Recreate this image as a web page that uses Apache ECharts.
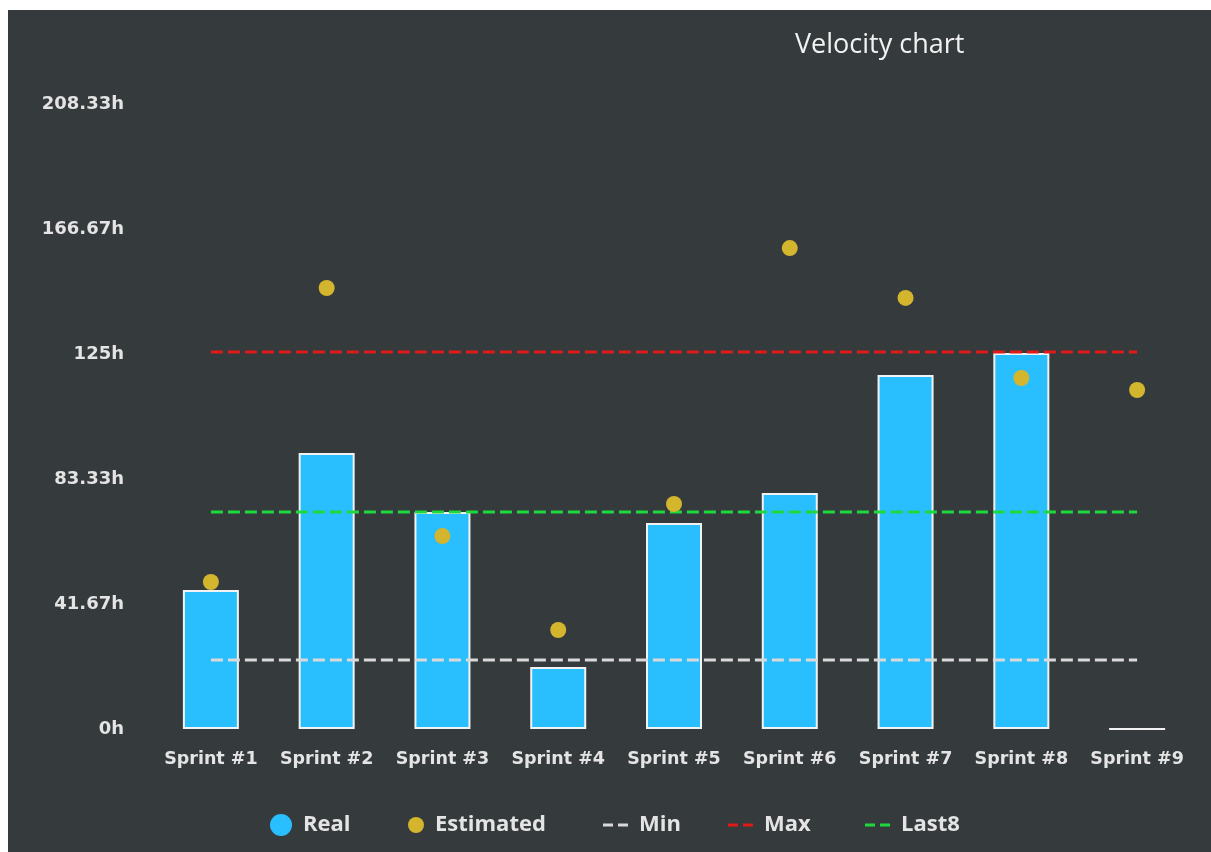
<!DOCTYPE html>
<html>
<head>
<meta charset="utf-8">
<script src="https://cdn.jsdelivr.net/npm/echarts@6/dist/echarts.min.js"></script>
<style>
html, body { margin: 0; padding: 0; background: #ffffff; width: 1211px; height: 852px; overflow: hidden; }
#chart { position: absolute; left: 8px; top: 10px; width: 1203px; height: 842px; background: #353a3d; }
</style>
</head>
<body>
<div id="chart"></div>
<script>
const sprints = ['Sprint #1', 'Sprint #2', 'Sprint #3', 'Sprint #4', 'Sprint #5', 'Sprint #6', 'Sprint #7', 'Sprint #8', 'Sprint #9'];
const realHours = [46.3, 92, 72.3, 20.7, 68.7, 78.7, 118, 125.3, 0];
const estimatedHours = [49, 147, 64.3, 33, 75, 160.3, 143.7, 117, 113];
const minHours = [23, 23, 23, 23, 23, 23, 23, 23, 23];
const maxHours = [125.7, 125.7, 125.7, 125.7, 125.7, 125.7, 125.7, 125.7, 125.7];
const last8Hours = [72.3, 72.3, 72.3, 72.3, 72.3, 72.3, 72.3, 72.3, 72.3];
const yMax = 625 / 3;
const yStep = 125 / 3;

const textColor = '#e4e4e4';
const fontFam = '"DejaVu Sans", sans-serif';
const dashIcon = 'path://M0,0h10v3h-10z M15,0h10v3h-10z';

function legendItem(name, left, icon, w, h, color) {
  return {
    data: [{ name: name, icon: icon, itemStyle: { color: color, borderWidth: 0, opacity: 1 } }],
    left: left, top: 799, itemWidth: w, itemHeight: h, itemGap: 0,
    textStyle: { color: textColor, fontFamily: '"Open Sans", sans-serif', fontWeight: 'bold', fontSize: 22, padding: [0, 0, 0, 6] },
    selectedMode: false
  };
}

const chart = echarts.init(document.getElementById('chart'));
chart.setOption({
  backgroundColor: '#353a3d',
  animation: false,
  title: {
    text: 'Velocity chart', left: 782, top: 17,
    textStyle: { color: '#f2f2f2', fontFamily: '"Open Sans", sans-serif', fontWeight: 'normal', fontSize: 27 }
  },
  legend: [
    legendItem('Real', 257, 'circle', 22, 22, '#29bfff'),
    legendItem('Estimated', 395, 'circle', 16, 16, '#d4b52e'),
    legendItem('Min', 590, dashIcon, 25, 3, '#d9d9d9'),
    legendItem('Max', 715, dashIcon, 25, 3, '#e01919'),
    legendItem('Last8', 852, dashIcon, 25, 3, '#1fd93c')
  ],
  grid: { left: 145, right: 16, top: 94, bottom: 123, containLabel: false },
  xAxis: {
    type: 'category', data: sprints,
    axisLine: { show: false }, axisTick: { show: false },
    axisLabel: { interval: 0, hideOverlap: false, color: textColor, fontFamily: fontFam, fontSize: 17.5, fontWeight: 'bold', margin: 21 }
  },
  yAxis: {
    type: 'value', min: 0, max: yMax, interval: yStep,
    splitLine: { show: false }, axisLine: { show: false }, axisTick: { show: false },
    axisLabel: {
      color: textColor, fontFamily: fontFam, fontSize: 18, fontWeight: 'bold', margin: 29,
      formatter: v => parseFloat(v.toFixed(2)) + 'h'
    }
  },
  series: [
    {
      name: 'Real', type: 'bar', data: realHours, barWidth: 56,
      itemStyle: { color: '#29bfff', borderColor: '#f2f2f2', borderWidth: 2 }, z: 2
    },
    {
      name: 'Estimated', type: 'scatter', data: estimatedHours, symbolSize: 16,
      itemStyle: { color: '#d4b52e', opacity: 1 }, z: 5
    },
    {
      name: 'Min', type: 'line', data: minHours, symbol: 'none',
      lineStyle: { color: '#d9d9d9', width: 3, type: [12, 5] }, itemStyle: { color: '#d9d9d9' }, z: 4
    },
    {
      name: 'Max', type: 'line', data: maxHours, symbol: 'none',
      lineStyle: { color: '#e01919', width: 3, type: [12, 5] }, itemStyle: { color: '#e01919' }, z: 4
    },
    {
      name: 'Last8', type: 'line', data: last8Hours, symbol: 'none',
      lineStyle: { color: '#1fd93c', width: 3, type: [12, 5] }, itemStyle: { color: '#1fd93c' }, z: 4
    }
  ]
});
</script>
</body>
</html>
